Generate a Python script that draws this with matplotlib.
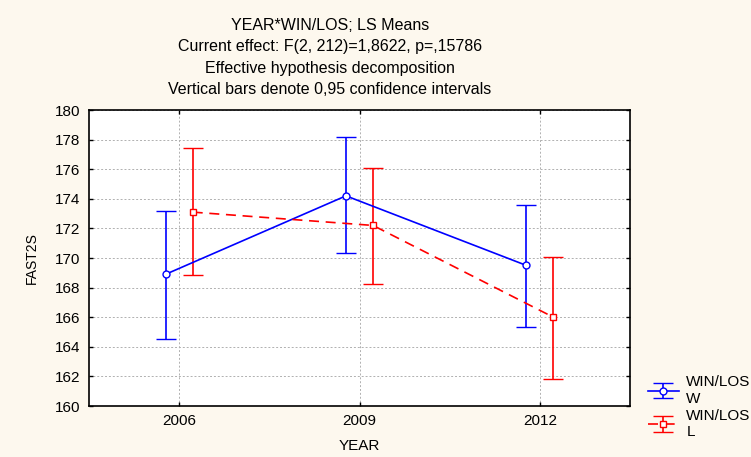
import matplotlib.pyplot as plt
import numpy as np

# data
years = ['2006', '2009', '2012']
w_mean = [168.9, 174.2, 169.5]
w_low = [164.5, 170.35, 165.35]
w_high = [173.15, 178.2, 173.55]
l_mean = [173.1, 172.2, 166.0]
l_low = [168.85, 168.25, 161.85]
l_high = [177.4, 176.05, 170.05]

plt.rcParams['font.family'] = ['Liberation Sans', 'DejaVu Sans']

fig = plt.figure(figsize=(7.51, 4.57), dpi=100, facecolor='#fdf8ee')
ax = fig.add_axes([89 / 751, 1 - 406 / 457, 541 / 751, 296 / 457])
ax.set_facecolor('white')

x = np.arange(len(years))
off = 0.075

w_err = [np.array(w_mean) - np.array(w_low), np.array(w_high) - np.array(w_mean)]
l_err = [np.array(l_mean) - np.array(l_low), np.array(l_high) - np.array(l_mean)]

ax.errorbar(x - off, w_mean, yerr=w_err, color='#0000ff', lw=1.2, ls='-',
            marker='o', ms=5, mfc='white', mec='#0000ff', mew=1,
            capsize=7, capthick=1.2, elinewidth=1.2, label='WIN/LOS\nW', zorder=3)
ax.errorbar(x + off, l_mean, yerr=l_err, color='#ff0000', lw=1.2, ls=(0, (6, 4)),
            marker='s', ms=5, mfc='white', mec='#ff0000', mew=1,
            capsize=7, capthick=1.2, elinewidth=1.2, label='WIN/LOS\nL', zorder=3)

ax.set_xlim(-0.5, 2.5)
ax.set_ylim(160, 180)
ax.set_xticks(x)
ax.set_xticklabels(years)
ax.set_yticks(np.arange(160, 181, 2))
ax.grid(True, color='#b0b0b0', ls=(0, (2, 2)), lw=0.7)
ax.set_axisbelow(True)
ax.tick_params(direction='in', length=3, width=1, labelsize=11, colors='black',
               top=True, right=True, pad=6)
for s in ax.spines.values():
    s.set_linewidth(1.2)

ax.set_xlabel('YEAR', fontsize=11, labelpad=8)
ax.set_ylabel('FAST2S', fontsize=10, labelpad=12)

titles = ['YEAR*WIN/LOS; LS Means',
          'Current effect: F(2, 212)=1,8622, p=,15786',
          'Effective hypothesis decomposition',
          'Vertical bars denote 0,95 confidence intervals']
for i, t in enumerate(titles):
    fig.text(330 / 751, 1 - (25.5 + i * 21.5) / 457, t, ha='center', va='center', fontsize=11.5)

leg = fig.legend(loc='lower left', bbox_to_anchor=(642 / 751, 1 - 445 / 457),
                 frameon=False, fontsize=11, handlelength=2.0, labelspacing=0.2,
                 borderaxespad=0, handletextpad=0.5)

fig.savefig('out.png', dpi=100, facecolor=fig.get_facecolor())
